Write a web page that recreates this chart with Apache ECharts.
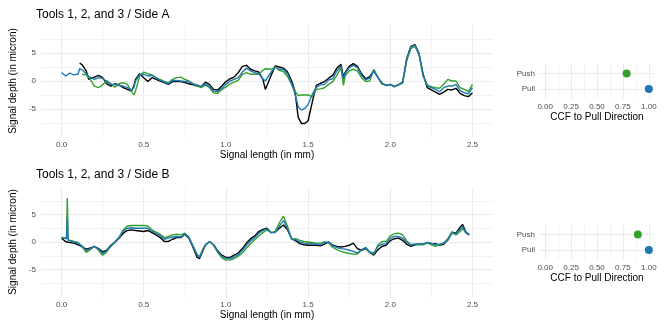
<!DOCTYPE html>
<html>
<head>
<meta charset="utf-8">
<script src="https://cdn.jsdelivr.net/npm/echarts@6/dist/echarts.min.js"></script>
<style>
html, body { margin: 0; padding: 0; background: #fff; }
#main { width: 664px; height: 332px; }
</style>
</head>
<body>
<div id="main"></div>
<script>
// Side A profiles (signal length in mm, depth in micron)
const sideAX = [
  0, 0.025, 0.05, 0.075, 0.1, 0.11, 0.125, 0.15, 0.165, 0.175,
  0.2, 0.225, 0.25, 0.275, 0.3, 0.325, 0.35, 0.375, 0.4, 0.425,
  0.44, 0.45, 0.475, 0.5, 0.525, 0.55, 0.575, 0.6, 0.625, 0.65,
  0.675, 0.7, 0.725, 0.75, 0.775, 0.8, 0.825, 0.85, 0.875, 0.9,
  0.925, 0.95, 0.975, 1.0, 1.025, 1.05, 1.075, 1.1, 1.125, 1.15,
  1.175, 1.2, 1.225, 1.24, 1.25, 1.275, 1.3, 1.325, 1.35, 1.375,
  1.4, 1.42, 1.44, 1.46, 1.48, 1.5, 1.525, 1.55, 1.575, 1.6,
  1.625, 1.65, 1.675, 1.7, 1.715, 1.725, 1.75, 1.775, 1.8, 1.825,
  1.85, 1.875, 1.9, 1.925, 1.95, 1.975, 2.0, 2.025, 2.05, 2.075,
  2.1, 2.125, 2.15, 2.175, 2.2, 2.225, 2.25, 2.275, 2.3, 2.325,
  2.35, 2.375, 2.4, 2.425, 2.45, 2.475, 2.5
]
const sideATool1 = [
  null, null, null, null, null, 3.2, 2.9, 1.8, 0.3, 0.1,
  0.7, 1.0, 0.6, -0.5, -0.9, -0.5, -0.7, -1.2, -1.5, -1.8,
  -0.9, 0.3, 1.3, 0.6, -0.1, 0.6, 0.3, 0.0, -0.3, -0.6,
  -0.1, -0.1, -0.1, -0.3, -0.5, -0.7, -0.9, -1.0, -0.2, -0.6,
  -1.5, -1.6, -0.9, -0.1, 0.4, 0.7, 1.5, 2.6, 2.8, 2.1,
  1.8, 1.6, 0.3, -1.5, -1.8, 1.0, 2.7, 2.5, 2.3, 1.6,
  0.0, -1.8, -6.5, -7.6, -7.6, -7.1, -3.8, -0.8, -0.4, -0.1,
  0.5, 1.0, 2.3, 3.0, 0.7, 1.5, 2.6, 3.1, 2.6, 1.3,
  0.4, 0.8, 1.8, 0.6, -0.4, -0.8, -0.6, -1.0, -0.7, -0.2,
  4.0, 6.2, 6.5, 4.9, 1.2, -1.2, -1.6, -2.0, -2.4, -2.0,
  -1.5, -1.6, -1.3, -2.2, -2.6, -2.8, -2.1
]
const sideATool2 = [
  1.5, 0.9, 1.4, 1.1, 1.2, 2.2, 2.0, 1.3, 0.8, 0.6,
  0.3, 0.6, 0.5, -0.1, -0.6, -0.6, -0.8, -0.9, -1.2, -1.6,
  -1.2, 0.0, 1.1, 1.2, 0.9, 1.0, 0.6, 0.1, -0.1, -0.5,
  0.1, 0.1, 0.0, -0.1, -0.1, -0.5, -0.7, -1.0, -0.5, -1.0,
  -1.8, -1.9, -1.3, -0.6, 0.0, 0.3, 0.6, 1.6, 2.3, 1.8,
  1.5, 1.3, 0.4, 0.0, 0.1, 1.6, 2.5, 2.1, 2.1, 1.3,
  -0.5, -2.3, -4.6, -5.2, -4.9, -4.2, -2.4, -1.1, -0.7, -0.6,
  0.2, 0.4, 1.8, 2.7, 0.3, 1.3, 2.35, 2.8, 2.4, 1.0,
  0.2, 0.5, 1.9, 0.6, -0.4, -0.8, -0.6, -1.0, -0.7, -0.3,
  3.8, 6.1, 6.4, 4.8, 1.0, -0.9, -1.2, -1.5, -1.9, -1.2,
  -0.9, -0.9, -0.6, -1.7, -2.1, -2.3, -1.2
]
const sideATool3 = [
  null, null, null, null, null, null, 1.2, 1.1, 0.7, 0.5,
  -0.9, -1.2, -0.7, 0.1, -0.5, -1.1, -0.5, -0.3, -0.6, -1.8,
  -2.5, -1.8, 0.9, 1.6, 1.3, 1.1, 0.5, 0.3, -0.1, -0.3,
  0.3, 0.6, 0.7, 0.3, 0.0, -0.5, -0.9, -1.2, -0.7, -1.2,
  -2.1, -2.2, -1.5, -1.1, -0.5, -0.2, 0.1, 1.2, 1.5, 1.2,
  1.2, 1.2, 1.9, 2.2, 2.3, 2.1, 2.5, 1.9, 1.7, 0.8,
  -0.6, -1.8, -2.6, -2.5, -2.5, -2.5, -2.8, -1.5, -1.4, -1.2,
  -0.6, -0.1, 1.0, 2.4, -0.8, 0.9, 1.8, 2.1, 1.8, 0.6,
  -0.1, 0.0, 2.1, 0.6, -0.6, -0.7, -0.7, -1.0, -0.6, -0.4,
  3.6, 5.8, 6.2, 4.7, 0.8, -0.7, -1.0, -1.2, -1.3, -0.6,
  0.3, 0.0, 0.0, -1.2, -1.5, -1.9, -0.6
]

// Side B profiles
const sideBX = [
  0, 0.015, 0.03, 0.035, 0.04, 0.05, 0.075, 0.1, 0.125, 0.15,
  0.175, 0.2, 0.225, 0.25, 0.275, 0.3, 0.325, 0.35, 0.375, 0.4,
  0.425, 0.45, 0.475, 0.5, 0.51, 0.525, 0.55, 0.575, 0.6, 0.625,
  0.65, 0.675, 0.7, 0.725, 0.75, 0.775, 0.8, 0.825, 0.84, 0.86,
  0.875, 0.9, 0.925, 0.95, 0.975, 1.0, 1.025, 1.05, 1.075, 1.1,
  1.125, 1.15, 1.175, 1.2, 1.225, 1.25, 1.275, 1.3, 1.325, 1.35,
  1.375, 1.4, 1.425, 1.45, 1.475, 1.5, 1.525, 1.55, 1.575, 1.6,
  1.625, 1.65, 1.675, 1.7, 1.725, 1.75, 1.775, 1.8, 1.825, 1.85,
  1.875, 1.9, 1.925, 1.95, 1.975, 2.0, 2.025, 2.05, 2.075, 2.1,
  2.125, 2.15, 2.175, 2.2, 2.225, 2.25, 2.275, 2.3, 2.325, 2.35,
  2.375, 2.4, 2.425, 2.44, 2.46, 2.48
]
const sideBTool1 = [
  0.7, 0.3, 0.0, 0.0, 0.0, -0.1, -0.2, -0.5, -0.9, -1.3,
  -1.1, -0.8, -1.2, -1.8, -1.5, -0.6, 0.0, 0.7, 1.6, 2.1,
  2.2, 2.1, 2.0, 1.9, 2.1, 2.1, 1.7, 1.3, 0.8, 0.1,
  0.1, 0.5, 0.8, 0.8, 1.4, 0.7, -1.0, -2.8, -3.0, -1.6,
  -0.6, 0.1, -0.5, -1.6, -2.4, -2.8, -2.8, -2.4, -2.0, -1.2,
  -0.2, 0.6, 1.1, 1.9, 2.3, 2.5, 1.7, 1.8, 2.5, 3.1,
  2.2, 0.6, 0.2, -0.3, -0.5, -0.6, -0.6, -0.6, -0.7, -0.4,
  0.0, -0.6, -0.8, -0.9, -0.8, -0.6, -0.2, -1.2, -1.5, -1.2,
  -1.9, -2.4, -1.4, -0.8, -0.6, 0.25, 0.6, 0.7, 0.3, -0.4,
  -0.8, -0.5, -0.4, -0.4, -0.1, -0.3, -0.3, -0.6, -0.4, 0.4,
  1.8, 1.6, 2.7, 3.2, 1.8, 1.3
]
const sideBTool2 = [
  0.8, 0.7, 0.6, 4.5, 0.3, 0.2, 0.0, -0.2, -0.7, -1.6,
  -1.2, -0.8, -1.3, -2.1, -1.6, -0.7, 0.0, 0.9, 2.0, 2.5,
  2.6, 2.5, 2.5, 2.5, 2.8, 2.5, 2.0, 1.5, 1.2, 0.5,
  0.7, 0.9, 1.0, 0.9, 1.5, 0.8, -0.7, -2.3, -2.8, -1.4,
  -0.5, 0.1, -0.5, -1.7, -2.6, -3.0, -3.0, -2.7, -2.3, -1.5,
  -0.6, 0.2, 0.8, 1.6, 2.1, 2.4, 1.7, 1.7, 2.9, 3.9,
  2.4, 0.5, 0.4, 0.0, -0.2, -0.3, -0.3, -0.4, -0.5, -0.1,
  0.0, -0.7, -1.0, -1.2, -1.3, -1.5, -1.7, -2.0, -1.4, -1.0,
  -1.8, -2.0, -0.8, -0.4, -0.3, 0.7, 1.0, 1.0, 0.7, 0.0,
  -0.5, -0.4, -0.3, -0.4, -0.1, -0.2, -0.5, -0.4, -0.2, 0.3,
  1.6, 1.5, 2.3, 2.8, 1.8, 1.3
]
const sideBTool3 = [
  0.85, 0.8, 0.7, 8.0, 0.4, 0.4, 0.1, -0.1, -0.9, -1.9,
  -1.4, -0.8, -1.5, -2.4, -1.8, -0.8, -0.1, 0.8, 2.2, 2.9,
  3.0, 3.0, 3.0, 3.0, 3.3, 2.9, 2.2, 1.8, 1.4, 0.8,
  1.0, 1.3, 1.4, 1.3, 1.6, 0.9, -0.8, -2.4, -2.6, -1.3,
  -0.5, 0.1, -0.6, -1.9, -2.9, -3.3, -3.3, -3.0, -2.6, -2.0,
  -1.1, -0.3, 0.4, 1.1, 1.7, 2.2, 1.7, 1.9, 3.5, 4.7,
  2.8, 0.5, 0.6, 0.3, 0.1, 0.0, -0.1, -0.2, -0.2, 0.0,
  -0.2, -1.0, -1.4, -1.7, -1.9, -2.1, -2.2, -2.2, -1.5, -1.0,
  -1.9, -2.2, -0.5, 0.1, 0.1, 1.1, 1.5, 1.6, 1.3, 0.2,
  -0.5, -0.4, -0.5, -0.5, -0.2, -0.5, -0.8, -0.5, -0.2, 0.6,
  1.8, 1.3, 1.9, 2.5, 1.6, 1.4
]

// CCF to pull direction
const ccfDirections = ['Pull', 'Push']
const ccfSideA = [1.0, 0.786]
const ccfSideB = [1.0, 0.894]

// tick positions
const lengthTicks = [0, 0.5, 1, 1.5, 2, 2.5]
const lengthMinor = [0.25, 0.75, 1.25, 1.75, 2.25]
const depthTicks = [-5, 0, 5]
const depthMinor = [-7.5, -2.5, 2.5, 7.5]
const ccfTicks = [0, 0.25, 0.5, 0.75, 1]
const ccfMinor = [0.125, 0.375, 0.625, 0.875]
const directionTicks = [1, 2]

const font = 'Liberation Sans'
const majorGrid = '#EBEBEB'
const minorGrid = '#F2F2F2'
const toolColors = ['#000000', '#33A02C', '#1F78B4']
const dotColors = ['#1F78B4', '#33A02C']

function pairs(xs, ys) {
  const out = []
  xs.forEach((x, i) => {
    if (ys[i] !== null) out.push([x, ys[i]])
  })
  return out
}

// an axis that only draws grid lines at the given values
function gridAxis(type, gridIndex, min, max, ticks, color) {
  return {
    type: 'value',
    gridIndex: gridIndex,
    min: min,
    max: max,
    position: type === 'x' ? 'bottom' : 'left',
    axisLine: { show: false, onZero: false },
    axisTick: { show: false, customValues: ticks },
    axisLabel: { show: false, customValues: ticks },
    splitLine: { show: true, lineStyle: { color: color, width: 1 } }
  }
}

function labelled(axis, opts) {
  axis.axisLabel = Object.assign({
    show: true,
    customValues: axis.axisTick.customValues,
    color: '#4D4D4D',
    fontSize: 8,
    fontFamily: font
  }, opts.label)
  if (opts.name) {
    axis.name = opts.name
    axis.nameLocation = 'middle'
    axis.nameGap = opts.nameGap
    axis.nameTextStyle = { color: '#000', fontSize: 10, fontFamily: font }
  }
  return axis
}

const fmt1 = v => v.toFixed(1)
const fmt2 = v => v.toFixed(2)
const fmtDepth = v => String(v)
const fmtDir = v => ccfDirections[v - 1]

const xAxes = [
  labelled(gridAxis('x', 0, -0.125, 2.625, lengthTicks, majorGrid), { label: { formatter: fmt1, margin: 3.5 }, name: 'Signal length (in mm)', nameGap: 13 }),
  gridAxis('x', 0, -0.125, 2.625, lengthMinor, minorGrid),
  labelled(gridAxis('x', 1, -0.125, 2.625, lengthTicks, majorGrid), { label: { formatter: fmt1, margin: 3.5 }, name: 'Signal length (in mm)', nameGap: 13 }),
  gridAxis('x', 1, -0.125, 2.625, lengthMinor, minorGrid),
  labelled(gridAxis('x', 2, -0.05, 1.05, ccfTicks, majorGrid), { label: { formatter: fmt2, margin: 4 }, name: 'CCF to Pull Direction', nameGap: 14 }),
  gridAxis('x', 2, -0.05, 1.05, ccfMinor, minorGrid),
  labelled(gridAxis('x', 3, -0.05, 1.05, ccfTicks, majorGrid), { label: { formatter: fmt2, margin: 4 }, name: 'CCF to Pull Direction', nameGap: 14 }),
  gridAxis('x', 3, -0.05, 1.05, ccfMinor, minorGrid)
]
const yAxes = [
  labelled(gridAxis('y', 0, -10, 10, depthTicks, majorGrid), { label: { formatter: fmtDepth, margin: 5 }, name: 'Signal depth (in micron)', nameGap: 16 }),
  gridAxis('y', 0, -10, 10, depthMinor, minorGrid),
  labelled(gridAxis('y', 1, -10, 10, depthTicks, majorGrid), { label: { formatter: fmtDepth, margin: 5 }, name: 'Signal depth (in micron)', nameGap: 16 }),
  gridAxis('y', 1, -10, 10, depthMinor, minorGrid),
  labelled(gridAxis('y', 2, 0.4, 2.6, directionTicks, majorGrid), { label: { formatter: fmtDir, margin: 5 } }),
  labelled(gridAxis('y', 3, 0.4, 2.6, directionTicks, majorGrid), { label: { formatter: fmtDir, margin: 5 } })
]

function lineSeries(name, xs, ys, color, axisIndex) {
  return {
    name: name,
    type: 'line',
    xAxisIndex: axisIndex,
    yAxisIndex: axisIndex,
    data: pairs(xs, ys),
    showSymbol: false,
    symbol: 'none',
    lineStyle: { color: color, width: 1.4 },
    itemStyle: { color: color },
    silent: true
  }
}

function dotSeries(values, xIndex, yIndex) {
  return {
    type: 'scatter',
    xAxisIndex: xIndex,
    yAxisIndex: yIndex,
    symbolSize: 8,
    data: ccfDirections.map((d, i) => ({ value: [values[i], i + 1], itemStyle: { color: dotColors[i], opacity: 1 } })),
    silent: true
  }
}

const titleStyle = { color: '#000', fontSize: 12, fontWeight: 'normal', fontFamily: font }

const option = {
  animation: false,
  backgroundColor: '#fff',
  title: [
    { text: 'Tools 1, 2, and 3 / Side A', left: 36, top: 9, padding: 0, textStyle: titleStyle },
    { text: 'Tools 1, 2, and 3 / Side B', left: 36, top: 169, padding: 0, textStyle: titleStyle }
  ],
  grid: [
    { left: 36, top: 25, width: 457, height: 112 },
    { left: 36, top: 187, width: 457, height: 110 },
    { left: 540, top: 64, width: 114, height: 34.5 },
    { left: 540, top: 225, width: 114, height: 34.5 }
  ],
  xAxis: xAxes,
  yAxis: yAxes,
  series: [
    lineSeries('Tool 1', sideAX, sideATool1, toolColors[0], 0),
    lineSeries('Tool 3', sideAX, sideATool3, toolColors[1], 0),
    lineSeries('Tool 2', sideAX, sideATool2, toolColors[2], 0),
    lineSeries('Tool 1', sideBX, sideBTool1, toolColors[0], 2),
    lineSeries('Tool 3', sideBX, sideBTool3, toolColors[1], 2),
    lineSeries('Tool 2', sideBX, sideBTool2, toolColors[2], 2),
    dotSeries(ccfSideA, 4, 4),
    dotSeries(ccfSideB, 6, 5)
  ]
}

const myChart = echarts.init(document.getElementById('main'))
myChart.setOption(option)
</script>
</body>
</html>
